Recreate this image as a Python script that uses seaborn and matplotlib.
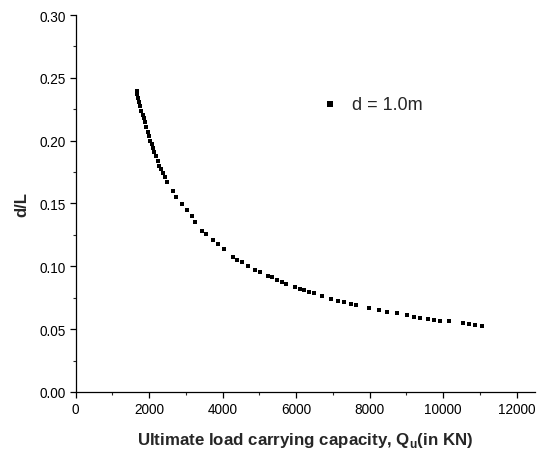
import matplotlib
matplotlib.use("Agg")
import matplotlib.pyplot as plt
import seaborn as sns
import pandas as pd
from matplotlib.ticker import MultipleLocator

# Data
qu = [1660, 1676, 1695, 1728, 1758, 1790, 1820, 1853, 1880, 1918,
      1956, 1989, 2027, 2065, 2103, 2141, 2182, 2229, 2278, 2329,
      2389, 2443, 2492, 2648, 2743, 2884, 3020, 3156, 3254, 3450,
      3554, 3736, 3867, 4027, 4272, 4397, 4517, 4697, 4879, 5015,
      5241, 5333, 5486, 5605, 5717, 5967, 6103, 6226, 6348, 6484,
      6694, 6947, 7129, 7314, 7499, 7627, 7981, 8266, 8471, 8729,
      9023, 9205, 9368, 9586, 9758, 9913, 10149, 10530, 10702, 10851,
      11042]
d_over_l = [0.2395, 0.2368, 0.2340, 0.2304, 0.2272, 0.2240, 0.2208, 0.2177, 0.2145, 0.2109,
            0.2069, 0.2037, 0.2001, 0.1970, 0.1938, 0.1906, 0.1874, 0.1838, 0.1802, 0.1771,
            0.1739, 0.1707, 0.1671, 0.1600, 0.1552, 0.1496, 0.1447, 0.1397, 0.1350, 0.1284,
            0.1255, 0.1210, 0.1178, 0.1138, 0.1072, 0.1050, 0.1032, 0.1003, 0.0973, 0.0953,
            0.0925, 0.0913, 0.0894, 0.0878, 0.0863, 0.0836, 0.0820, 0.0808, 0.0796, 0.0784,
            0.0762, 0.0740, 0.0727, 0.0715, 0.0700, 0.0692, 0.0667, 0.0651, 0.0639, 0.0626,
            0.0611, 0.0599, 0.0591, 0.0581, 0.0573, 0.0567, 0.0561, 0.0548, 0.0539, 0.0532,
            0.0525]
series_label = "d = 1.0m"
x_label = "Ultimate load carrying capacity, Q$_\\mathbf{u}$(in KN)"
y_label = "d/L"

df = pd.DataFrame({"Qu": qu, "dL": d_over_l})

sns.set_theme(style="ticks")
plt.rcParams["font.family"] = ["Liberation Sans", "DejaVu Sans"]
plt.rcParams["mathtext.fontset"] = "custom"
plt.rcParams["mathtext.rm"] = "Liberation Sans"
plt.rcParams["mathtext.bf"] = "Liberation Sans:bold"

fig = plt.figure(figsize=(5.4, 4.6), dpi=100)
ax = fig.add_axes([0.140, 0.1457, 0.851, 0.8195])

sns.scatterplot(data=df, x="Qu", y="dL", marker="s", color="black", s=10,
                linewidth=0, ax=ax, label=series_label)

ax.set_xlim(0, 12500)
ax.set_ylim(0, 0.30)
ax.set_xticks([0, 2000, 4000, 6000, 8000, 10000, 12000])
ax.set_yticks([0.00, 0.05, 0.10, 0.15, 0.20, 0.25, 0.30])
ax.set_yticklabels([f"{v:.2f}" for v in [0.00, 0.05, 0.10, 0.15, 0.20, 0.25, 0.30]])
ax.xaxis.set_minor_locator(MultipleLocator(1000))
ax.yaxis.set_minor_locator(MultipleLocator(0.025))
ax.tick_params(which="major", direction="out", length=4, width=0.9, labelsize=9.8, colors="black", pad=3)
ax.tick_params(which="minor", direction="out", length=2.5, width=0.8)
for s in ["left", "bottom"]:
    ax.spines[s].set_linewidth(0.9)
    ax.spines[s].set_color("black")
sns.despine(ax=ax)

ax.set_xlabel(x_label, fontsize=12.2, fontweight="bold", labelpad=10)
ax.set_ylabel(y_label, fontsize=12, fontweight="bold", labelpad=7)

leg = ax.legend(loc="center left", bbox_to_anchor=(0.495, 0.762), frameon=False,
                fontsize=13, handletextpad=0.6, handlelength=1.2, markerscale=1.2)

fig.savefig("out.png", dpi=100)
